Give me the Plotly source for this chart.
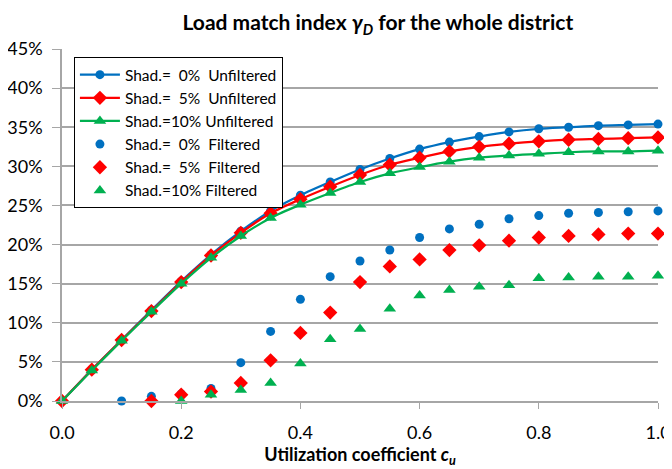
import plotly.graph_objects as go

x = [round(i * 0.05, 2) for i in range(21)]

unf_0 = [0, 4.0, 7.8, 11.6, 15.3, 18.7, 21.7, 24.3, 26.3, 28.0, 29.6, 31.0, 32.2, 33.1, 33.8, 34.4, 34.8, 35.0, 35.2, 35.3, 35.4]
unf_5 = [0, 4.0, 7.8, 11.5, 15.2, 18.6, 21.5, 24.0, 25.8, 27.4, 28.9, 30.2, 31.1, 31.9, 32.5, 32.9, 33.2, 33.4, 33.5, 33.6, 33.7]
unf_10 = [0, 3.9, 7.7, 11.4, 15.0, 18.3, 21.1, 23.4, 25.1, 26.6, 28.0, 29.1, 29.9, 30.6, 31.1, 31.4, 31.6, 31.8, 31.9, 31.9, 32.0]

x_f0 = x[2:]
fil_0 = [0.0, 0.6, 0.9, 1.6, 4.9, 8.9, 13.0, 15.9, 17.9, 19.3, 20.9, 22.0, 22.6, 23.3, 23.7, 24.0, 24.1, 24.2, 24.3]
x_f5 = x[3:]
fil_5 = [0.0, 0.8, 1.2, 2.3, 5.2, 8.7, 11.3, 15.2, 17.2, 18.1, 19.3, 19.9, 20.5, 20.9, 21.1, 21.3, 21.4, 21.4]
x_f10 = x[4:]
fil_10 = [0.0, 0.8, 1.4, 2.3, 4.8, 7.9, 9.2, 11.8, 13.5, 14.2, 14.6, 14.8, 15.7, 15.8, 15.9, 15.9, 16.0]

names_unf = ["Shad.=\u00a0\u00a00%\u00a0\u00a0Unfiltered", "Shad.=\u00a0\u00a05%\u00a0\u00a0Unfiltered", "Shad.=10%\u00a0Unfiltered"]
names_fil = ["Shad.=\u00a0\u00a00%\u00a0\u00a0Filtered", "Shad.=\u00a0\u00a05%\u00a0\u00a0Filtered", "Shad.=10%\u00a0Filtered"]

BLUE, RED, GREEN = "#0070C0", "#FF0000", "#00B050"
colors = [BLUE, RED, GREEN]
symbols = ["circle", "diamond", "triangle-up"]
sizes = [9, 11, 11]

fig = go.Figure()
for ys, nm, c, s, sz in zip([unf_0, unf_5, unf_10], names_unf, colors, symbols, sizes):
    fig.add_trace(go.Scatter(
        x=x, y=[v / 100 for v in ys], name=nm, mode="lines+markers",
        line=dict(color=c, width=2.25, shape="spline", smoothing=0.8),
        marker=dict(color=c, symbol=s, size=sz), cliponaxis=False))
for xs, ys, nm, c, s, sz in zip([x_f0, x_f5, x_f10], [fil_0, fil_5, fil_10], names_fil, colors, symbols, sizes):
    fig.add_trace(go.Scatter(
        x=xs, y=[v / 100 for v in ys], name=nm, mode="markers",
        marker=dict(color=c, symbol=s, size=sz), cliponaxis=False))

FONT = "Lato, Carlito, Calibri, sans-serif"
# page body has an 8px margin, so the figure is sized 8px smaller and margins shifted
fig.update_layout(
    width=664, height=461,
    margin=dict(l=54, r=14, t=41, b=68),
    paper_bgcolor="white", plot_bgcolor="white",
    font=dict(family=FONT, size=18, color="black"),
    title=dict(text="<b>Load match index <i>γ<sub>D</sub></i> for the whole district</b>",
               x=0.557, xanchor="center", y=0.968, yanchor="middle",
               font=dict(size=21, family=FONT)),
    showlegend=True,
    legend=dict(x=0.02, y=0.977, xanchor="left", yanchor="top",
                bordercolor="black", borderwidth=1, bgcolor="white",
                font=dict(size=15.5, family=FONT), tracegroupgap=0,
                itemwidth=40),
    xaxis=dict(range=[0, 1], dtick=0.2, tick0=0, tickformat=".1f",
               showgrid=False, showline=True, linecolor="#A6A6A6", linewidth=1.5,
               ticks="outside", tickcolor="#A6A6A6", ticklen=6,
               ticklabelstandoff=9,
               zeroline=False, tickfont=dict(size=18), automargin=False,
               title=dict(text="<b>Utilization coefficient <i>c<sub>u</sub></i></b>",
                          font=dict(size=18, family=FONT), standoff=6)),
    yaxis=dict(range=[0, 0.45], dtick=0.05, tick0=0, tickformat=".0%",
               showgrid=True, gridcolor="#A6A6A6", gridwidth=1.5,
               showline=True, linecolor="#A6A6A6", linewidth=1.5,
               ticks="outside", tickcolor="#A6A6A6", ticklen=8,
               ticklabelstandoff=6, automargin=False,
               zeroline=False, tickfont=dict(size=18)),
)

fig.write_html("out.html")
